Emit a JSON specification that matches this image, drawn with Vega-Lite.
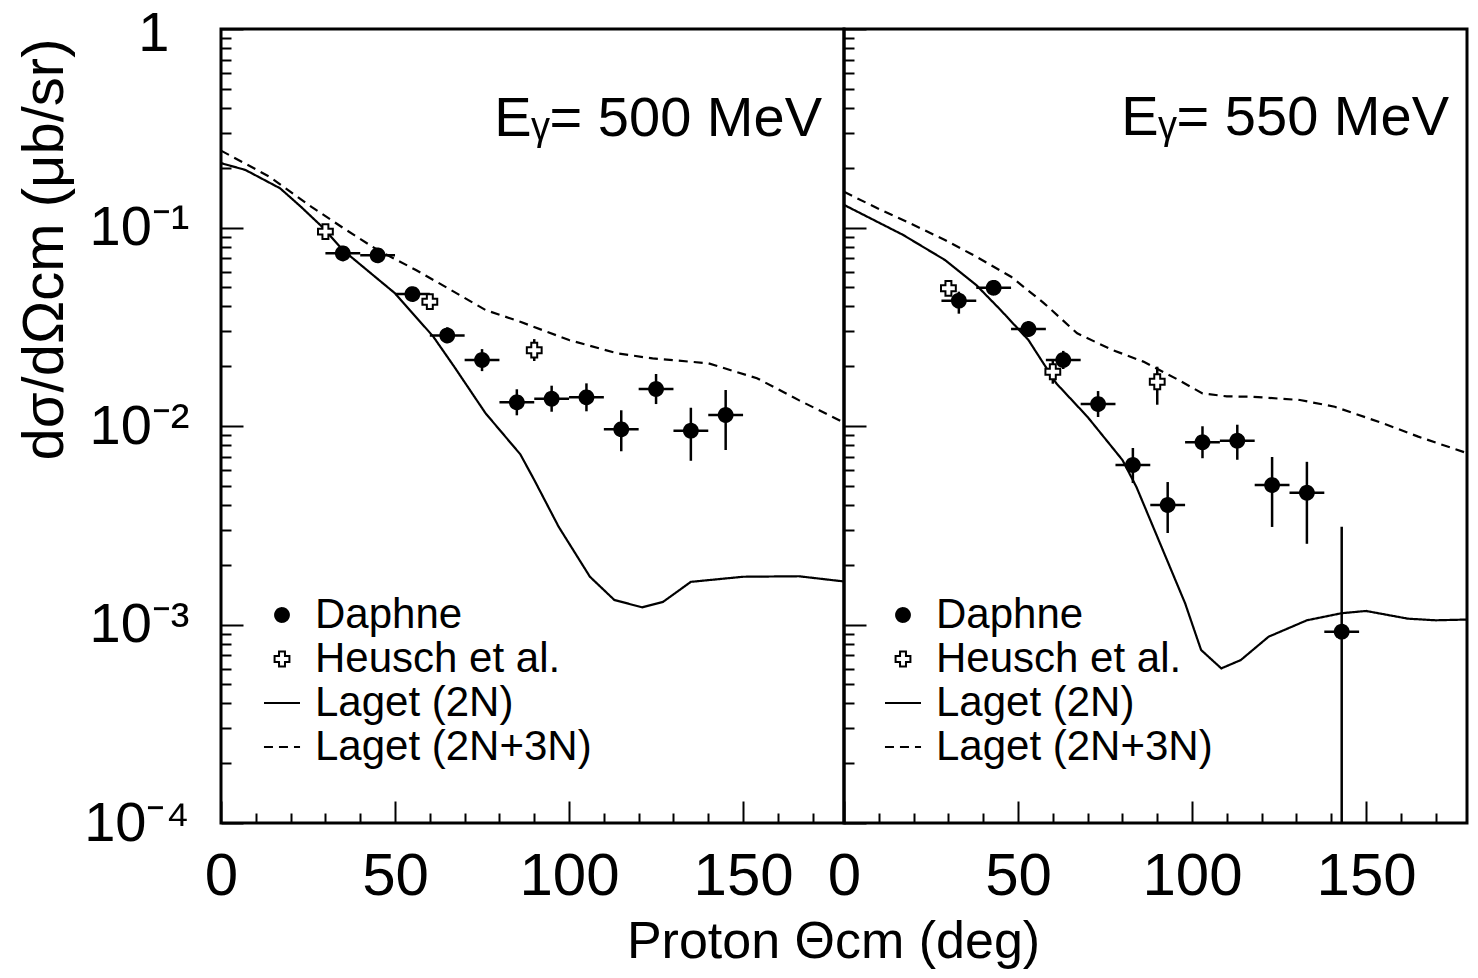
{
  "$schema": "https://vega.github.io/schema/vega-lite/v6.json",
  "background": "white",
  "padding": {"left": 14, "top": 3, "right": 5, "bottom": 5},
  "spacing": 0,
  "bounds": "flush",
  "resolve": {"scale": {"shape": "independent", "strokeDash": "independent", "fill": "independent", "size": "independent"}, "legend": {"shape": "independent", "strokeDash": "independent", "fill": "independent", "size": "independent"}},
  "config": {
    "view": {"stroke": "black", "strokeWidth": 3},
    "font": "Liberation Sans",
    "axis": {"domain": false, "grid": false, "labelFont": "Liberation Sans", "labelFontWeight": "normal", "labelColor": "black", "tickColor": "black", "tickWidth": 2, "titleFont": "Liberation Sans", "titleFontWeight": "normal", "titleColor": "black", "labelFlush": false, "labelOverlap": false, "labelBound": false},
    "title": {"font": "Liberation Sans", "fontWeight": "normal", "color": "black"}
  },
  "datasets": {
    "points": [
      {"panel": "500", "series": "Daphne", "theta": 35, "xlo": 30, "xhi": 40, "y": 0.0741, "ylo": 0.0676, "yhi": 0.0795},
      {"panel": "500", "series": "Daphne", "theta": 45, "xlo": 40, "xhi": 50, "y": 0.0724, "ylo": 0.0676, "yhi": 0.0767},
      {"panel": "500", "series": "Daphne", "theta": 55, "xlo": 50, "xhi": 60, "y": 0.0462, "ylo": 0.0431, "yhi": 0.0496},
      {"panel": "500", "series": "Daphne", "theta": 65, "xlo": 60, "xhi": 70, "y": 0.0286, "ylo": 0.0261, "yhi": 0.0314},
      {"panel": "500", "series": "Daphne", "theta": 75, "xlo": 70, "xhi": 80, "y": 0.0215, "ylo": 0.0189, "yhi": 0.0244},
      {"panel": "500", "series": "Daphne", "theta": 85, "xlo": 80, "xhi": 90, "y": 0.01316, "ylo": 0.01132, "yhi": 0.01531},
      {"panel": "500", "series": "Daphne", "theta": 95, "xlo": 90, "xhi": 100, "y": 0.01372, "ylo": 0.0118, "yhi": 0.01596},
      {"panel": "500", "series": "Daphne", "theta": 105, "xlo": 100, "xhi": 110, "y": 0.01395, "ylo": 0.01186, "yhi": 0.0164},
      {"panel": "500", "series": "Daphne", "theta": 115, "xlo": 110, "xhi": 120, "y": 0.00962, "ylo": 0.00746, "yhi": 0.012},
      {"panel": "500", "series": "Daphne", "theta": 125, "xlo": 120, "xhi": 130, "y": 0.01536, "ylo": 0.0129, "yhi": 0.01828},
      {"panel": "500", "series": "Daphne", "theta": 135, "xlo": 130, "xhi": 140, "y": 0.00947, "ylo": 0.00668, "yhi": 0.01236},
      {"panel": "500", "series": "Daphne", "theta": 145, "xlo": 140, "xhi": 150, "y": 0.01136, "ylo": 0.00757, "yhi": 0.01518},
      {"panel": "500", "series": "Heusch et al.", "theta": 30, "y": 0.0953, "ylo": 0.0909, "yhi": 0.0998},
      {"panel": "500", "series": "Heusch et al.", "theta": 60, "y": 0.0423, "ylo": 0.0404, "yhi": 0.0443},
      {"panel": "500", "series": "Heusch et al.", "theta": 90, "y": 0.0241, "ylo": 0.02126, "yhi": 0.0274},
      {"panel": "550", "series": "Daphne", "theta": 33, "xlo": 28, "xhi": 38, "y": 0.0428, "ylo": 0.0368, "yhi": 0.0475},
      {"panel": "550", "series": "Daphne", "theta": 43, "xlo": 38, "xhi": 48, "y": 0.0497, "ylo": 0.0469, "yhi": 0.0527},
      {"panel": "550", "series": "Daphne", "theta": 53, "xlo": 48, "xhi": 58, "y": 0.0308, "ylo": 0.0281, "yhi": 0.0338},
      {"panel": "550", "series": "Daphne", "theta": 63, "xlo": 58, "xhi": 68, "y": 0.0215, "ylo": 0.01937, "yhi": 0.0239},
      {"panel": "550", "series": "Daphne", "theta": 73, "xlo": 68, "xhi": 78, "y": 0.0129, "ylo": 0.0111, "yhi": 0.015},
      {"panel": "550", "series": "Daphne", "theta": 83, "xlo": 78, "xhi": 88, "y": 0.00636, "ylo": 0.00516, "yhi": 0.00775},
      {"panel": "550", "series": "Daphne", "theta": 93, "xlo": 88, "xhi": 98, "y": 0.004, "ylo": 0.00289, "yhi": 0.00522},
      {"panel": "550", "series": "Daphne", "theta": 103, "xlo": 98, "xhi": 108, "y": 0.00828, "ylo": 0.00688, "yhi": 0.00997},
      {"panel": "550", "series": "Daphne", "theta": 113, "xlo": 108, "xhi": 118, "y": 0.00843, "ylo": 0.00676, "yhi": 0.01015},
      {"panel": "550", "series": "Daphne", "theta": 123, "xlo": 118, "xhi": 128, "y": 0.00504, "ylo": 0.0031, "yhi": 0.00698},
      {"panel": "550", "series": "Daphne", "theta": 133, "xlo": 128, "xhi": 138, "y": 0.00461, "ylo": 0.00255, "yhi": 0.0066},
      {"panel": "550", "series": "Daphne", "theta": 143, "xlo": 138, "xhi": 148, "y": 0.00092, "ylo": 0.0001, "yhi": 0.00311},
      {"panel": "550", "series": "Heusch et al.", "theta": 30, "y": 0.0494, "ylo": 0.0461, "yhi": 0.053},
      {"panel": "550", "series": "Heusch et al.", "theta": 60, "y": 0.01877, "ylo": 0.01633, "yhi": 0.0216},
      {"panel": "550", "series": "Heusch et al.", "theta": 90, "y": 0.0167, "ylo": 0.0128, "yhi": 0.0199}
    ],
    "curves": [
      {"panel": "500", "series": "Laget (2N)", "theta": 0, "y": 0.211},
      {"panel": "500", "series": "Laget (2N)", "theta": 7, "y": 0.195},
      {"panel": "500", "series": "Laget (2N)", "theta": 17, "y": 0.1575},
      {"panel": "500", "series": "Laget (2N)", "theta": 23, "y": 0.127},
      {"panel": "500", "series": "Laget (2N)", "theta": 29, "y": 0.101},
      {"panel": "500", "series": "Laget (2N)", "theta": 35, "y": 0.077},
      {"panel": "500", "series": "Laget (2N)", "theta": 50, "y": 0.0466},
      {"panel": "500", "series": "Laget (2N)", "theta": 61, "y": 0.0282},
      {"panel": "500", "series": "Laget (2N)", "theta": 67, "y": 0.0199},
      {"panel": "500", "series": "Laget (2N)", "theta": 76, "y": 0.0116},
      {"panel": "500", "series": "Laget (2N)", "theta": 86, "y": 0.0072},
      {"panel": "500", "series": "Laget (2N)", "theta": 90, "y": 0.00535},
      {"panel": "500", "series": "Laget (2N)", "theta": 97, "y": 0.00311},
      {"panel": "500", "series": "Laget (2N)", "theta": 106, "y": 0.00174},
      {"panel": "500", "series": "Laget (2N)", "theta": 113, "y": 0.00133},
      {"panel": "500", "series": "Laget (2N)", "theta": 121, "y": 0.00122},
      {"panel": "500", "series": "Laget (2N)", "theta": 127, "y": 0.0013},
      {"panel": "500", "series": "Laget (2N)", "theta": 135, "y": 0.00164},
      {"panel": "500", "series": "Laget (2N)", "theta": 150, "y": 0.00174},
      {"panel": "500", "series": "Laget (2N)", "theta": 166, "y": 0.00175},
      {"panel": "500", "series": "Laget (2N)", "theta": 180, "y": 0.00164},
      {"panel": "500", "series": "Laget (2N+3N)", "theta": 0, "y": 0.244},
      {"panel": "500", "series": "Laget (2N+3N)", "theta": 14, "y": 0.18},
      {"panel": "500", "series": "Laget (2N+3N)", "theta": 26, "y": 0.127},
      {"panel": "500", "series": "Laget (2N+3N)", "theta": 36, "y": 0.0971},
      {"panel": "500", "series": "Laget (2N+3N)", "theta": 45, "y": 0.077},
      {"panel": "500", "series": "Laget (2N+3N)", "theta": 56, "y": 0.0611},
      {"panel": "500", "series": "Laget (2N+3N)", "theta": 66, "y": 0.0485},
      {"panel": "500", "series": "Laget (2N+3N)", "theta": 76, "y": 0.0384},
      {"panel": "500", "series": "Laget (2N+3N)", "theta": 86, "y": 0.0335},
      {"panel": "500", "series": "Laget (2N+3N)", "theta": 100, "y": 0.0271},
      {"panel": "500", "series": "Laget (2N+3N)", "theta": 114, "y": 0.0232},
      {"panel": "500", "series": "Laget (2N+3N)", "theta": 124, "y": 0.0219},
      {"panel": "500", "series": "Laget (2N+3N)", "theta": 140, "y": 0.0207},
      {"panel": "500", "series": "Laget (2N+3N)", "theta": 154, "y": 0.0174},
      {"panel": "500", "series": "Laget (2N+3N)", "theta": 166, "y": 0.0135},
      {"panel": "500", "series": "Laget (2N+3N)", "theta": 180, "y": 0.0102},
      {"panel": "550", "series": "Laget (2N)", "theta": 0, "y": 0.13},
      {"panel": "550", "series": "Laget (2N)", "theta": 17, "y": 0.0917},
      {"panel": "550", "series": "Laget (2N)", "theta": 29, "y": 0.0686},
      {"panel": "550", "series": "Laget (2N)", "theta": 38, "y": 0.0513},
      {"panel": "550", "series": "Laget (2N)", "theta": 45, "y": 0.0384},
      {"panel": "550", "series": "Laget (2N)", "theta": 53, "y": 0.0271},
      {"panel": "550", "series": "Laget (2N)", "theta": 61, "y": 0.0164},
      {"panel": "550", "series": "Laget (2N)", "theta": 70, "y": 0.0111},
      {"panel": "550", "series": "Laget (2N)", "theta": 80, "y": 0.00674},
      {"panel": "550", "series": "Laget (2N)", "theta": 84, "y": 0.00494},
      {"panel": "550", "series": "Laget (2N)", "theta": 90, "y": 0.00277},
      {"panel": "550", "series": "Laget (2N)", "theta": 98, "y": 0.00128},
      {"panel": "550", "series": "Laget (2N)", "theta": 102.6, "y": 0.000744},
      {"panel": "550", "series": "Laget (2N)", "theta": 108.4, "y": 0.000601},
      {"panel": "550", "series": "Laget (2N)", "theta": 114, "y": 0.000662},
      {"panel": "550", "series": "Laget (2N)", "theta": 122, "y": 0.000868},
      {"panel": "550", "series": "Laget (2N)", "theta": 133, "y": 0.00105},
      {"panel": "550", "series": "Laget (2N)", "theta": 143, "y": 0.00114},
      {"panel": "550", "series": "Laget (2N)", "theta": 150, "y": 0.00117},
      {"panel": "550", "series": "Laget (2N)", "theta": 162, "y": 0.00107},
      {"panel": "550", "series": "Laget (2N)", "theta": 170, "y": 0.00105},
      {"panel": "550", "series": "Laget (2N)", "theta": 180, "y": 0.00106},
      {"panel": "550", "series": "Laget (2N+3N)", "theta": 0, "y": 0.1514},
      {"panel": "550", "series": "Laget (2N+3N)", "theta": 9.6, "y": 0.125},
      {"panel": "550", "series": "Laget (2N+3N)", "theta": 19, "y": 0.105},
      {"panel": "550", "series": "Laget (2N+3N)", "theta": 29, "y": 0.0865},
      {"panel": "550", "series": "Laget (2N+3N)", "theta": 38, "y": 0.0713},
      {"panel": "550", "series": "Laget (2N+3N)", "theta": 48, "y": 0.0565},
      {"panel": "550", "series": "Laget (2N+3N)", "theta": 57.5, "y": 0.0415},
      {"panel": "550", "series": "Laget (2N+3N)", "theta": 67, "y": 0.0293},
      {"panel": "550", "series": "Laget (2N+3N)", "theta": 77, "y": 0.0242},
      {"panel": "550", "series": "Laget (2N+3N)", "theta": 86, "y": 0.0211},
      {"panel": "550", "series": "Laget (2N+3N)", "theta": 96, "y": 0.0171},
      {"panel": "550", "series": "Laget (2N+3N)", "theta": 103, "y": 0.0146},
      {"panel": "550", "series": "Laget (2N+3N)", "theta": 110, "y": 0.0141},
      {"panel": "550", "series": "Laget (2N+3N)", "theta": 117, "y": 0.01405},
      {"panel": "550", "series": "Laget (2N+3N)", "theta": 131, "y": 0.01352},
      {"panel": "550", "series": "Laget (2N+3N)", "theta": 141, "y": 0.0125},
      {"panel": "550", "series": "Laget (2N+3N)", "theta": 155, "y": 0.0103},
      {"panel": "550", "series": "Laget (2N+3N)", "theta": 165, "y": 0.00884},
      {"panel": "550", "series": "Laget (2N+3N)", "theta": 180, "y": 0.0072}
    ]
  },
  "hconcat": [
    {
      "width": 623,
      "height": 794,
      "title": {"text": "Eᵧ= 500 MeV", "anchor": "end", "frame": "group", "offset": 0, "dy": 187, "dx": -22, "baseline": "alphabetic", "fontSize": 56},
      "resolve": {"scale": {"x": "independent"}},
      "layer": [
        {
          "data": {"name": "curves"},
          "transform": [{"filter": "datum.panel === '500'"}],
          "mark": {"type": "line", "color": "black", "strokeWidth": 2.2, "clip": true},
          "encoding": {
            "x": {"field": "theta", "type": "quantitative", "scale": {"domain": [0, 179], "nice": false, "zero": false},
              "axis": {"orient": "bottom", "title": "Proton Θcm (deg)", "titleFontSize": 52, "titleX": 612, "titleY": 134, "titleBaseline": "alphabetic", "titleAlign": "center",
                "values": [0, 50, 100, 150], "labelFontSize": 60, "labelPadding": 46, "labelOverlap": false, "labelFlush": false, "tickSize": -22}},
            "y": {"field": "y", "type": "quantitative", "scale": {"type": "log", "domain": [0.0001, 1], "nice": false},
              "axis": {"title": "dσ/dΩcm (μb/sr)", "titleFontSize": 58, "titleX": -176, "titleY": 220, "titleBaseline": "middle", "titleAlign": "center", "titleAngle": -90,
                "values": [0.0001, 0.0002, 0.0003, 0.0004, 0.0005, 0.0006, 0.0007, 0.0008, 0.0009, 0.001, 0.002, 0.003, 0.004, 0.005, 0.006, 0.007, 0.008, 0.009, 0.01, 0.02, 0.03, 0.04, 0.05, 0.06, 0.07, 0.08, 0.09, 0.1, 0.2, 0.3, 0.4, 0.5, 0.6, 0.7, 0.8, 0.9, 1],
                "labelExpr": "datum.value === 1 ? '1' : datum.value === 0.1 ? '10⁻¹' : datum.value === 0.01 ? '10⁻²' : datum.value === 0.001 ? '10⁻³' : datum.value === 0.0001 ? '10⁻⁴' : ''",
                "labelFontSize": 56, "labelOverlap": false,
                "labelPadding": {"condition": {"test": "datum.value === 1", "value": 74}, "value": 54},
                "labelOffset": {"condition": {"test": "datum.value === 1", "value": 4}, "value": 0},
                "tickSize": {"condition": {"test": "datum.value === 1 || datum.value === 0.1 || datum.value === 0.01 || datum.value === 0.001 || datum.value === 0.0001", "value": -22}, "value": -10}}},
            "strokeDash": {"field": "series", "type": "nominal", "scale": {"domain": ["Daphne", "Heusch et al.", "Laget (2N)", "Laget (2N+3N)"], "range": [[1, 0], [1, 0], [1, 0], [9, 6]]}}
          }
        },
        {
          "data": {"name": "points"},
          "transform": [{"filter": "datum.panel === '500'"}],
          "mark": {"type": "rule", "color": "black", "strokeWidth": 2.5},
          "encoding": {
            "x": {"field": "theta", "type": "quantitative", "scale": {"domain": [0, 179], "nice": false, "zero": false},
              "axis": {"orient": "bottom", "title": null, "labels": false, "values": [10, 20, 30, 40, 60, 70, 80, 90, 110, 120, 130, 140, 160, 170], "tickSize": -10}},
            "y": {"field": "ylo", "type": "quantitative"},
            "y2": {"field": "yhi"}
          }
        },
        {
          "data": {"name": "points"},
          "transform": [{"filter": "datum.panel === '500' && isValid(datum.xlo)"}],
          "mark": {"type": "rule", "color": "black", "strokeWidth": 2.5},
          "encoding": {
            "x": {"field": "xlo", "type": "quantitative", "scale": {"domain": [0, 179], "nice": false, "zero": false}, "axis": null},
            "x2": {"field": "xhi"},
            "y": {"field": "y", "type": "quantitative"}
          }
        },
        {
          "data": {"name": "points"},
          "transform": [{"filter": "datum.panel === '500'"}],
          "mark": {"type": "point", "filled": true, "stroke": "black", "strokeWidth": 2, "opacity": 1},
          "encoding": {
            "x": {"field": "theta", "type": "quantitative", "scale": {"domain": [0, 179], "nice": false, "zero": false}, "axis": null},
            "y": {"field": "y", "type": "quantitative"},
            "fill": {"field": "series", "type": "nominal", "scale": {"domain": ["Daphne", "Heusch et al.", "Laget (2N)", "Laget (2N+3N)"], "range": ["black", "white", "black", "black"]}},
            "size": {"field": "series", "type": "nominal", "scale": {"type": "ordinal", "domain": ["Daphne", "Heusch et al.", "Laget (2N)", "Laget (2N+3N)"], "range": [190, 220, 1300, 1300]}},
            "strokeDash": {"field": "series", "type": "nominal"},
            "shape": {"field": "series", "type": "nominal",
              "scale": {"domain": ["Daphne", "Heusch et al.", "Laget (2N)", "Laget (2N+3N)"], "range": ["circle", "cross", "stroke", "stroke"]},
              "legend": {"orient": "none", "legendX": 40, "legendY": 565, "title": null, "padding": 0,
                "labelFont": "Liberation Sans", "labelFontSize": 42, "labelColor": "black", "labelOffset": 12, "labelLimit": 600,
                "symbolSize": 1300, "symbolStrokeWidth": 2, "symbolFillColor": "white", "symbolStrokeColor": "black", "rowPadding": 2,
                "encode": {"symbols": {"stroke": {"value": "black"}, "opacity": {"value": 1}}}}}
          }
        }
      ]
    },
    {
      "width": 623,
      "height": 794,
      "title": {"text": "Eᵧ= 550 MeV", "anchor": "end", "frame": "group", "offset": 0, "dy": 163, "dx": -18, "baseline": "alphabetic", "fontSize": 56},
      "resolve": {"scale": {"x": "independent"}},
      "layer": [
        {
          "data": {"name": "curves"},
          "transform": [{"filter": "datum.panel === '550'"}],
          "mark": {"type": "line", "color": "black", "strokeWidth": 2.2, "clip": true},
          "encoding": {
            "x": {"field": "theta", "type": "quantitative", "scale": {"domain": [0, 179], "nice": false, "zero": false},
              "axis": {"orient": "bottom", "title": null, "values": [0, 50, 100, 150], "labelFontSize": 60, "labelPadding": 46, "labelOverlap": false, "labelFlush": false, "tickSize": -22}},
            "y": {"field": "y", "type": "quantitative", "scale": {"type": "log", "domain": [0.0001, 1], "nice": false},
              "axis": {"title": null, "labels": false,
                "values": [0.0001, 0.0002, 0.0003, 0.0004, 0.0005, 0.0006, 0.0007, 0.0008, 0.0009, 0.001, 0.002, 0.003, 0.004, 0.005, 0.006, 0.007, 0.008, 0.009, 0.01, 0.02, 0.03, 0.04, 0.05, 0.06, 0.07, 0.08, 0.09, 0.1, 0.2, 0.3, 0.4, 0.5, 0.6, 0.7, 0.8, 0.9, 1],
                "tickSize": {"condition": {"test": "datum.value === 1 || datum.value === 0.1 || datum.value === 0.01 || datum.value === 0.001 || datum.value === 0.0001", "value": -22}, "value": -10}}},
            "strokeDash": {"field": "series", "type": "nominal", "scale": {"domain": ["Daphne", "Heusch et al.", "Laget (2N)", "Laget (2N+3N)"], "range": [[1, 0], [1, 0], [1, 0], [9, 6]]}}
          }
        },
        {
          "data": {"name": "points"},
          "transform": [{"filter": "datum.panel === '550'"}],
          "mark": {"type": "rule", "color": "black", "strokeWidth": 2.5, "clip": true},
          "encoding": {
            "x": {"field": "theta", "type": "quantitative", "scale": {"domain": [0, 179], "nice": false, "zero": false},
              "axis": {"orient": "bottom", "title": null, "labels": false, "values": [10, 20, 30, 40, 60, 70, 80, 90, 110, 120, 130, 140, 160, 170], "tickSize": -10}},
            "y": {"field": "ylo", "type": "quantitative"},
            "y2": {"field": "yhi"}
          }
        },
        {
          "data": {"name": "points"},
          "transform": [{"filter": "datum.panel === '550' && isValid(datum.xlo)"}],
          "mark": {"type": "rule", "color": "black", "strokeWidth": 2.5},
          "encoding": {
            "x": {"field": "xlo", "type": "quantitative", "scale": {"domain": [0, 179], "nice": false, "zero": false}, "axis": null},
            "x2": {"field": "xhi"},
            "y": {"field": "y", "type": "quantitative"}
          }
        },
        {
          "data": {"name": "points"},
          "transform": [{"filter": "datum.panel === '550'"}],
          "mark": {"type": "point", "filled": true, "stroke": "black", "strokeWidth": 2, "opacity": 1},
          "encoding": {
            "x": {"field": "theta", "type": "quantitative", "scale": {"domain": [0, 179], "nice": false, "zero": false}, "axis": null},
            "y": {"field": "y", "type": "quantitative"},
            "fill": {"field": "series", "type": "nominal", "scale": {"domain": ["Daphne", "Heusch et al.", "Laget (2N)", "Laget (2N+3N)"], "range": ["black", "white", "black", "black"]}},
            "size": {"field": "series", "type": "nominal", "scale": {"type": "ordinal", "domain": ["Daphne", "Heusch et al.", "Laget (2N)", "Laget (2N+3N)"], "range": [190, 220, 1300, 1300]}},
            "strokeDash": {"field": "series", "type": "nominal"},
            "shape": {"field": "series", "type": "nominal",
              "scale": {"domain": ["Daphne", "Heusch et al.", "Laget (2N)", "Laget (2N+3N)"], "range": ["circle", "cross", "stroke", "stroke"]},
              "legend": {"orient": "none", "legendX": 38, "legendY": 565, "title": null, "padding": 0,
                "labelFont": "Liberation Sans", "labelFontSize": 42, "labelColor": "black", "labelOffset": 12, "labelLimit": 600,
                "symbolSize": 1300, "symbolStrokeWidth": 2, "symbolFillColor": "white", "symbolStrokeColor": "black", "rowPadding": 2,
                "encode": {"symbols": {"stroke": {"value": "black"}, "opacity": {"value": 1}}}}}
          }
        }
      ]
    }
  ]
}
